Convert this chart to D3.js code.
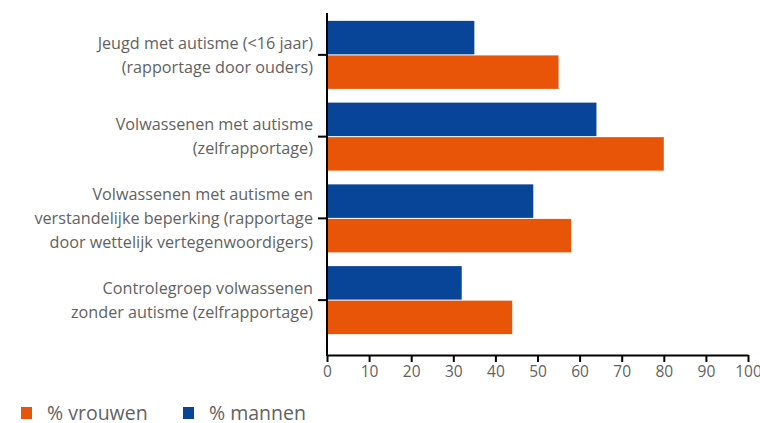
<!DOCTYPE html>
<html>
<head>
<meta charset="utf-8">
<script src="https://cdn.jsdelivr.net/npm/d3@7"></script>
<style>
  body { margin: 0; background: #fff; }
</style>
</head>
<body>
<div id="chart"></div>
<script>
const categories = [
  ["Jeugd met autisme (<16 jaar)", "(rapportage door ouders)"],
  ["Volwassenen met autisme", "(zelfrapportage)"],
  ["Volwassenen met autisme en", "verstandelijke beperking (rapportage", "door wettelijk vertegenwoordigers)"],
  ["Controlegroep volwassenen", "zonder autisme (zelfrapportage)"]
];
const mannen = [35, 64, 49, 32];
const vrouwen = [55, 80, 58, 44];
const seriesNames = ["% mannen", "% vrouwen"];
const legendOrder = ["% vrouwen", "% mannen"];
const xTicks = [0, 10, 20, 30, 40, 50, 60, 70, 80, 90, 100];

const WIDTH = 760, HEIGHT = 423;
const COLORS = { "% mannen": "#084497", "% vrouwen": "#e95508" };
const FONT = "'Open Sans', sans-serif";
const TEXT_GREY = "#626262";

window.onload = function() {
  let svg = d3.select("#chart").append("svg")
    .attr("width", WIDTH).attr("height", HEIGHT)
    .style("font-family", FONT);

  let x = d3.scaleLinear().domain([0, 100]).range([327, 748]);
  let y = d3.scaleBand().domain(d3.range(categories.length))
    .range([14, 341]).paddingInner(0.168).paddingOuter(0.084);
  let y1 = d3.scaleBand().domain(seriesNames).range([0, y.bandwidth()]).paddingInner(0.03);

  let rows = categories.map(function(c, i) {
    return { i: i, values: [{ key: "% mannen", v: mannen[i] }, { key: "% vrouwen", v: vrouwen[i] }] };
  });

  let groups = svg.selectAll("g.grp").data(rows).enter().append("g")
    .attr("class", "grp")
    .attr("transform", function(d) { return "translate(0," + y(d.i) + ")"; });

  groups.selectAll("rect").data(function(d) { return d.values; }).enter().append("rect")
    .attr("x", x(0))
    .attr("y", function(d) { return y1(d.key); })
    .attr("height", y1.bandwidth())
    .attr("width", function(d) { return x(d.v) - x(0); })
    .attr("fill", function(d) { return COLORS[d.key]; });

  // x axis
  let xAxis = svg.append("g").attr("transform", "translate(0,355)")
    .call(d3.axisBottom(x).tickValues(xTicks).tickSize(7).tickSizeOuter(0).tickPadding(4));
  xAxis.select(".domain").attr("stroke", "#000").attr("stroke-width", 2);
  xAxis.selectAll(".tick line").attr("stroke", "#000").attr("stroke-width", 2);
  xAxis.selectAll(".tick text").style("font-size", "15.5px").style("font-family", FONT).attr("fill", TEXT_GREY);

  // y axis line
  svg.append("line").attr("x1", x(0)).attr("x2", x(0)).attr("y1", 13).attr("y2", 356)
    .attr("stroke", "#000").attr("stroke-width", 2);

  // y ticks and labels
  let yt = svg.selectAll("g.ytick").data(rows).enter().append("g")
    .attr("class", "ytick")
    .attr("transform", function(d) { return "translate(" + x(0) + "," + (y(d.i) + y.bandwidth() / 2) + ")"; });
  yt.append("line").attr("x1", -9).attr("x2", 0).attr("stroke", "#000").attr("stroke-width", 2);
  let lineH = 24;
  yt.append("text")
    .attr("text-anchor", "end")
    .attr("fill", TEXT_GREY)
    .style("font-size", "16.2px")
    .selectAll("tspan").data(function(d) { return categories[d.i].map(function(t, k) { return { t: t, k: k, n: categories[d.i].length }; }); })
    .enter().append("tspan")
    .attr("x", -14)
    .attr("y", function(d) { return (d.k - (d.n - 1) / 2) * lineH; })
    .attr("dy", "0.35em")
    .text(function(d) { return d.t; });

  // legend
  let legend = svg.selectAll("g.leg").data(legendOrder).enter().append("g")
    .attr("class", "leg")
    .attr("transform", function(d, i) { return "translate(" + (21 + i * 162) + ",407)"; });
  legend.append("rect").attr("width", 11).attr("height", 12)
    .attr("fill", function(d) { return COLORS[d]; });
  legend.append("text").attr("x", 26).attr("y", 6).attr("dy", "0.35em")
    .attr("fill", TEXT_GREY).style("font-size", "19.5px")
    .text(function(d) { return d; });
};
</script>
</body>
</html>
